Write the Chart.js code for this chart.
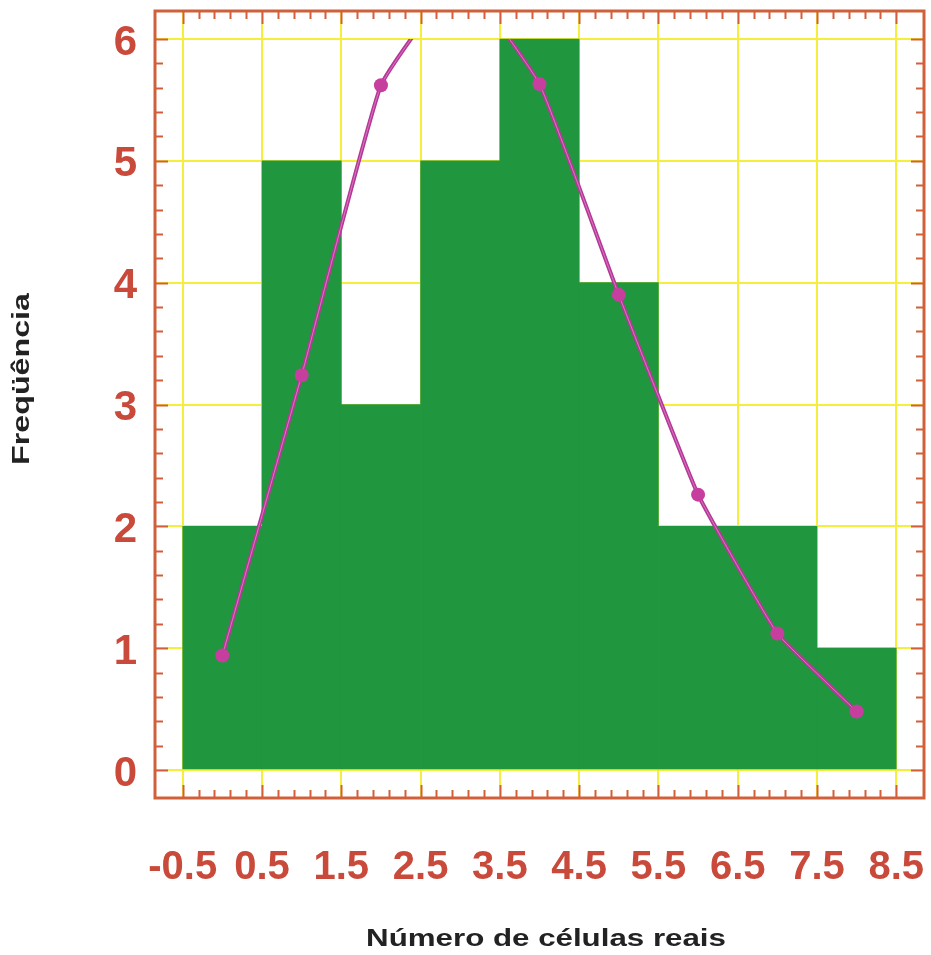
<!DOCTYPE html>
<html>
<head>
<meta charset="utf-8">
<script src="https://cdn.jsdelivr.net/npm/chart.js@4.4.1/dist/chart.umd.min.js"></script>
<style>
  html, body { margin: 0; padding: 0; background: #ffffff; }
  #wrap { width: 931px; height: 955px; }
</style>
</head>
<body>
<div id="wrap"><canvas id="histChart" width="931" height="955"></canvas></div>
<script>
// histogram bins (centres) and observed counts
const binCenters = [0, 1, 2, 3, 4, 5, 6, 7, 8];
const frequencies = [2, 5, 3, 5, 6, 4, 2, 2, 1];
// expected counts drawn as the curve
const fittedCurve = [0.94, 3.24, 5.62, 6.50, 5.63, 3.90, 2.26, 1.12, 0.48];

const xTickValues = [-0.5, 0.5, 1.5, 2.5, 3.5, 4.5, 5.5, 6.5, 7.5, 8.5];
const yTickValues = [0, 1, 2, 3, 4, 5, 6];

const xTitle = 'Número de células reais';
const yTitle = 'Freqüência';

const frameColor = '#d0603a';
const labelColor = '#c9493a';
const gridYellow = '#f6ee3c';

const barPoints = binCenters.map((x, i) => ({ x: x, y: frequencies[i] }));
const curvePoints = binCenters.map((x, i) => ({ x: x, y: fittedCurve[i] }));

// the curve is cut off at the top grid line (y = 6), not at the frame
const curveClip = { left: 0, right: 0, top: -28, bottom: 0 };

// orange box with small inward ticks every 0.2
const framePlugin = {
  id: 'frame',
  afterDatasetsDraw(chart) {
    const ctx = chart.ctx;
    const a = chart.chartArea;
    const xs = chart.scales.x;
    const ys = chart.scales.y;
    ctx.save();
    ctx.strokeStyle = frameColor;
    ctx.lineWidth = 2;
    ctx.beginPath();
    for (let i = 0; i <= 45; i++) {
      const v = -0.5 + i * 0.2;
      const px = Math.round(xs.getPixelForValue(v)) + 0.5;
      const len = i % 5 === 0 ? 13 : 8;
      ctx.moveTo(px, a.top); ctx.lineTo(px, a.top + len);
      ctx.moveTo(px, a.bottom); ctx.lineTo(px, a.bottom - len);
    }
    for (let i = 0; i <= 30; i++) {
      const v = i * 0.2;
      const py = Math.round(ys.getPixelForValue(v)) + 0.5;
      const len = i % 5 === 0 ? 13 : 8;
      ctx.moveTo(a.left, py); ctx.lineTo(a.left + len, py);
      ctx.moveTo(a.right, py); ctx.lineTo(a.right - len, py);
    }
    ctx.stroke();
    ctx.lineWidth = 3;
    ctx.strokeRect(a.left, a.top, a.right - a.left, a.bottom - a.top);
    ctx.restore();
  }
};

// axis titles, drawn wide like the original lettering
const titlesPlugin = {
  id: 'wideTitles',
  afterDraw(chart) {
    const ctx = chart.ctx;
    ctx.save();
    ctx.fillStyle = '#222222';
    ctx.font = "bold 23px 'Liberation Sans', Arial, sans-serif";
    ctx.textAlign = 'center';
    ctx.textBaseline = 'middle';

    ctx.save();
    ctx.translate(546, 940);
    ctx.scale(1.36, 1);
    ctx.fillText(xTitle, 0, 0);
    ctx.restore();

    ctx.save();
    ctx.translate(23, 379);
    ctx.rotate(-Math.PI / 2);
    ctx.scale(1.4, 1);
    ctx.fillText(yTitle, 0, 0);
    ctx.restore();

    ctx.restore();
  }
};

new Chart(document.getElementById('histChart'), {
  type: 'bar',
  data: {
    datasets: [
      {
        type: 'line',
        data: curvePoints,
        showLine: false,
        pointRadius: 7,
        pointBackgroundColor: '#c63f9f',
        pointBorderWidth: 0,
        clip: curveClip,
        order: 1
      },
      {
        type: 'line',
        data: curvePoints,
        borderColor: 'rgba(236, 160, 214, 0.6)',
        borderWidth: 1,
        tension: 0.1,
        pointRadius: 0,
        clip: curveClip,
        order: 2
      },
      {
        type: 'line',
        data: curvePoints,
        borderColor: '#b53898',
        borderWidth: 4,
        tension: 0.1,
        pointRadius: 0,
        clip: curveClip,
        order: 3
      },
      {
        type: 'bar',
        data: barPoints,
        backgroundColor: '#20963f',
        borderWidth: 0,
        barPercentage: 1,
        categoryPercentage: 1,
        order: 4
      }
    ]
  },
  options: {
    responsive: false,
    animation: false,
    layout: { padding: { left: 0, top: 11, right: 2, bottom: 0 } },
    plugins: {
      legend: { display: false },
      tooltip: { enabled: false }
    },
    scales: {
      x: {
        type: 'linear',
        min: -0.85,
        max: 8.85,
        offset: false,
        afterBuildTicks(scale) {
          scale.ticks = xTickValues.map(v => ({ value: v }));
        },
        afterFit(scale) {
          scale.height = 157;
          scale.paddingLeft = 0;
          scale.paddingRight = 0;
        },
        grid: { color: gridYellow, lineWidth: 2, drawTicks: false, offset: false },
        border: { display: false },
        ticks: {
          padding: 46,
          maxRotation: 0,
          autoSkip: false,
          color: labelColor,
          font: { family: "'Liberation Sans', Arial, sans-serif", size: 40, weight: 'bold' },
          callback: v => v.toFixed(1)
        }
      },
      y: {
        type: 'linear',
        min: -0.23,
        max: 6.23,
        afterBuildTicks(scale) {
          scale.ticks = yTickValues.map(v => ({ value: v }));
        },
        afterFit(scale) {
          scale.width = 155;
          scale.paddingTop = 0;
          scale.paddingBottom = 0;
        },
        grid: { color: gridYellow, lineWidth: 2, drawTicks: false },
        border: { display: false },
        ticks: {
          padding: 18,
          labelOffset: 4,
          color: labelColor,
          font: { family: "'Liberation Sans', Arial, sans-serif", size: 42, weight: 'bold' },
          callback: v => String(v)
        }
      }
    }
  },
  plugins: [framePlugin, titlesPlugin]
});
</script>
</body>
</html>
